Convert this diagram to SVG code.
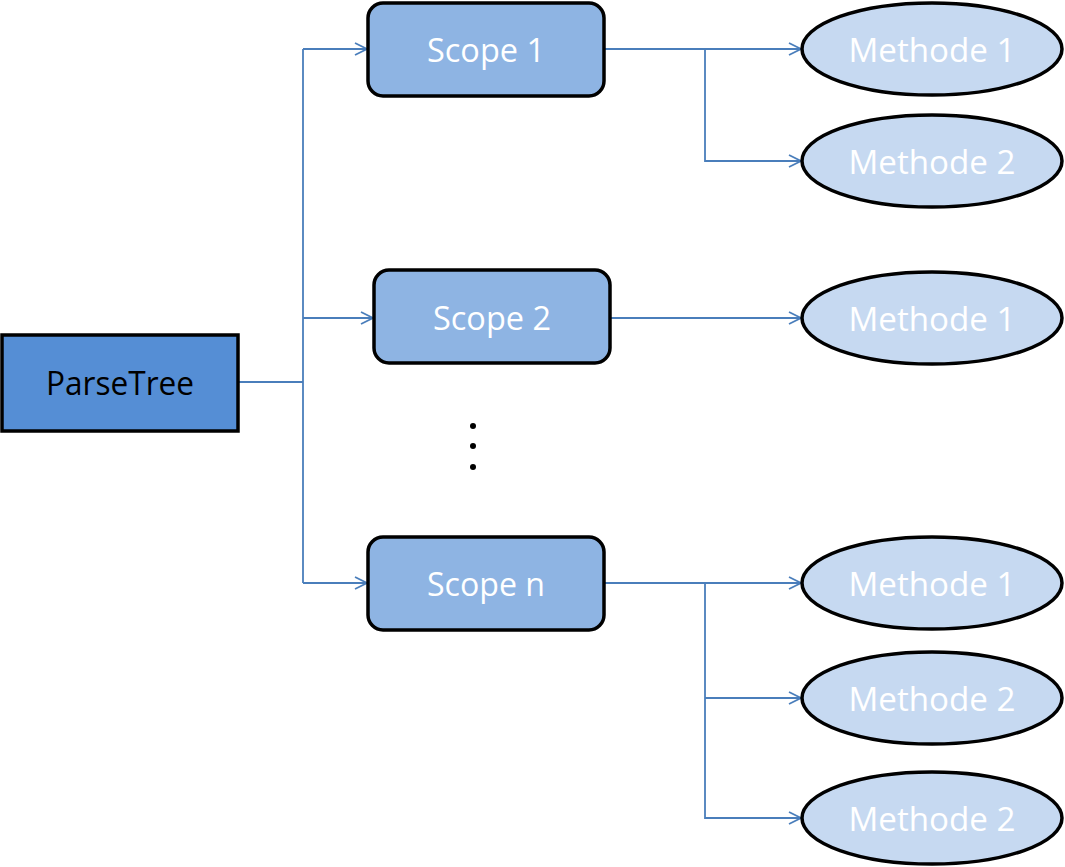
<svg xmlns="http://www.w3.org/2000/svg" width="1065" height="867" viewBox="0 0 1065 867">
<style>
.root{fill:#558ED5;stroke:#000;stroke-width:3.5}
.scope{fill:#8EB4E3;stroke:#000;stroke-width:3.5}
.meth{fill:#C6D9F1;stroke:#000;stroke-width:3.5}
.t{font-family:"Open Sans","Noto Sans",sans-serif;font-size:33px;text-anchor:middle;fill:#fff}
.tb{fill:#000}
.c{fill:none;stroke:#4A7EBB;stroke-width:1.8}
</style>
<defs>
<marker id="a" viewBox="0 0 14 14" refX="13" refY="7" markerWidth="14" markerHeight="14" markerUnits="userSpaceOnUse" orient="auto">
<path d="M1,1 L13,7 L1,13" fill="none" stroke="#4A7EBB" stroke-width="1.8"/>
</marker>
</defs>
<rect width="1065" height="867" fill="#fff"/>
<g id="connectors">
<path class="c" d="M238,382 H303"/>
<path class="c" d="M303,49 V583"/>
<path class="c" d="M303,49 H367" marker-end="url(#a)"/>
<path class="c" d="M303,318 H373" marker-end="url(#a)"/>
<path class="c" d="M303,583 H367" marker-end="url(#a)"/>
<path class="c" d="M604,49 H801" marker-end="url(#a)"/>
<path class="c" d="M705,49 V161 H801" marker-end="url(#a)"/>
<path class="c" d="M610,318 H801" marker-end="url(#a)"/>
<path class="c" d="M604,583 H801" marker-end="url(#a)"/>
<path class="c" d="M705,583 V818 H801" marker-end="url(#a)"/>
<path class="c" d="M705,698 H801" marker-end="url(#a)"/>
</g>
<g id="parsetree">
<rect class="root" x="2" y="335" width="236" height="96"/>
<text class="t tb" x="120" y="395" textLength="148" lengthAdjust="spacingAndGlyphs">ParseTree</text>
</g>
<g id="scope1">
<rect class="scope" x="368" y="3" width="236" height="93" rx="15"/>
<text class="t" x="486" y="62" textLength="118" lengthAdjust="spacingAndGlyphs">Scope 1</text>
</g>
<g id="scope2">
<rect class="scope" x="374" y="270" width="236" height="93" rx="15"/>
<text class="t" x="492" y="330" textLength="118" lengthAdjust="spacingAndGlyphs">Scope 2</text>
</g>
<g id="scopen">
<rect class="scope" x="368" y="537" width="236" height="93" rx="15"/>
<text class="t" x="486" y="596" textLength="118" lengthAdjust="spacingAndGlyphs">Scope n</text>
</g>
<g id="dots" fill="#000">
<circle cx="473" cy="426" r="3"/>
<circle cx="473" cy="446" r="3"/>
<circle cx="473" cy="467" r="3"/>
</g>
<g id="s1m1">
<ellipse class="meth" cx="932" cy="49" rx="130" ry="46"/>
<text class="t" x="932" y="62" textLength="167" lengthAdjust="spacingAndGlyphs">Methode 1</text>
</g>
<g id="s1m2">
<ellipse class="meth" cx="932" cy="161" rx="130" ry="46"/>
<text class="t" x="932" y="174" textLength="167" lengthAdjust="spacingAndGlyphs">Methode 2</text>
</g>
<g id="s2m1">
<ellipse class="meth" cx="932" cy="318" rx="130" ry="46"/>
<text class="t" x="932" y="331" textLength="167" lengthAdjust="spacingAndGlyphs">Methode 1</text>
</g>
<g id="snm1">
<ellipse class="meth" cx="932" cy="583" rx="130" ry="46"/>
<text class="t" x="932" y="596" textLength="167" lengthAdjust="spacingAndGlyphs">Methode 1</text>
</g>
<g id="snm2">
<ellipse class="meth" cx="932" cy="698" rx="130" ry="46"/>
<text class="t" x="932" y="711" textLength="167" lengthAdjust="spacingAndGlyphs">Methode 2</text>
</g>
<g id="snm3">
<ellipse class="meth" cx="932" cy="818" rx="130" ry="46"/>
<text class="t" x="932" y="831" textLength="167" lengthAdjust="spacingAndGlyphs">Methode 2</text>
</g>
</svg>
